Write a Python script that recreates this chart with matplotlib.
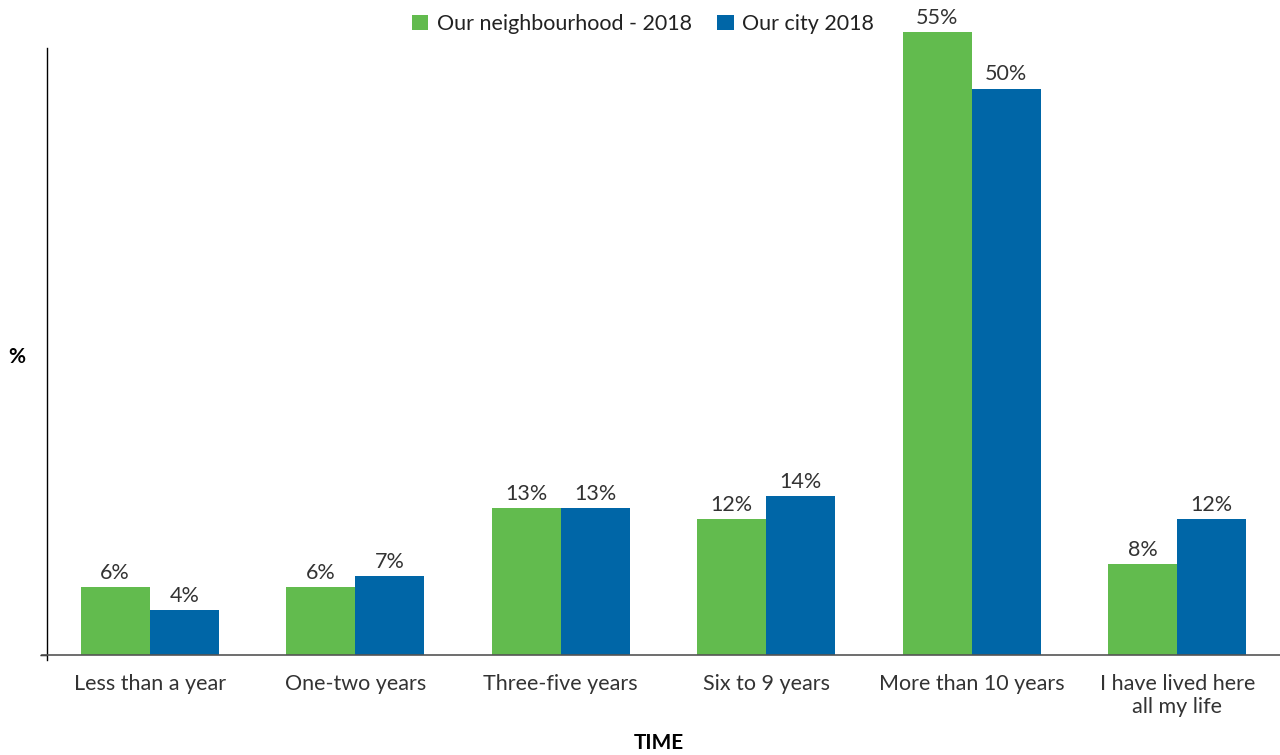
import matplotlib
matplotlib.use("Agg")
import matplotlib.pyplot as plt
import numpy as np

categories = ["Less than a year", "One-two years", "Three-five years", "Six to 9 years",
              "More than 10 years", "I have lived here\nall my life"]
neighbourhood = [6, 6, 13, 12, 55, 8]
city = [4, 7, 13, 14, 50, 12]
series_names = ["Our neighbourhood - 2018", "Our city 2018"]
colors = ["#62BB4E", "#0066A7"]

plt.rcParams['font.family'] = ['Lato', 'DejaVu Sans']

fig = plt.figure(figsize=(12.8, 7.55), dpi=100)
ax = fig.add_axes([47/1280, 1-655/755, 1-47/1280, 623/755])

x = np.arange(len(categories))
w = 0.336
b1 = ax.bar(x - w/2, neighbourhood, w, color=colors[0], label=series_names[0], clip_on=False, zorder=2)
b2 = ax.bar(x + w/2, city, w, color=colors[1], label=series_names[1], clip_on=False, zorder=2)
for bars, vals in ((b1, neighbourhood), (b2, city)):
    for r, v in zip(bars, vals):
        ax.annotate(f"{v}%", (r.get_x() + r.get_width()/2, v), xytext=(0, 3),
                    textcoords="offset points", ha="center", va="bottom",
                    fontsize=15.5, color="#333333", annotation_clip=False)

ax.set_xlim(-0.5, 5.5)
ax.set_ylim(0, 55)
for s in ("top", "right", "bottom"):
    ax.spines[s].set_visible(False)
ax.spines["left"].set_bounds(-0.45, 53.6)
ax.spines["left"].set_color("black")
ax.spines["left"].set_linewidth(1.0)
ax.plot([-0.5 - 5/205.5, 5.5], [0, 0], color="#555555", lw=1.2, clip_on=False, zorder=3)

ax.set_yticks([0])
ax.set_yticklabels([""])
ax.tick_params(axis="y", direction="out", length=5, width=1)
ax.set_xticks(x)
ax.set_xticklabels(categories, fontsize=15.5, color="#333333", linespacing=1.15)
ax.tick_params(axis="x", length=0, pad=14)

fig.text(17/1280, 1-357/755, "%", fontsize=15, fontweight="bold", ha="center", va="center")
fig.text(659/1280, 1-743/755, "TIME", fontsize=15, fontweight="bold", ha="center", va="center")

leg = fig.legend(handles=[b1, b2], labels=series_names, loc="center", bbox_to_anchor=(643/1280, 1-24/755),
                 ncol=2, frameon=False, fontsize=15.5, handlelength=0.75, handleheight=0.75,
                 handletextpad=0.4, columnspacing=1.2)
for t in leg.get_texts():
    t.set_color("#222222")

fig.savefig("out.png", dpi=100)
